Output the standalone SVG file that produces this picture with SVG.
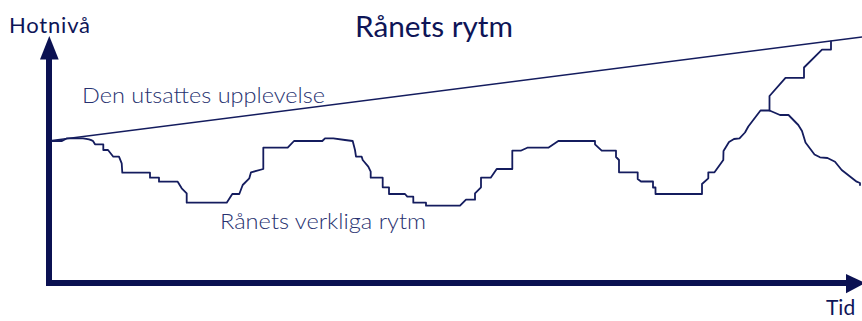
<svg xmlns="http://www.w3.org/2000/svg" width="862" height="321" viewBox="0 0 862 321">
<style>
.ttl{font-family:Lato,"Liberation Sans",sans-serif;fill:#0e1557}
.sm{font-family:Lato,"Liberation Sans",sans-serif;fill:#0e1557;font-weight:400}
.lbl{font-family:Lato,"Liberation Sans",sans-serif;font-weight:300;fill:#27316f}
.axis{fill:#0b1152}
.curve{fill:none;stroke:#141c5e;stroke-width:1.8;stroke-linejoin:round;stroke-linecap:round}
.exp{fill:none;stroke:#141c5e;stroke-width:1.4}
</style>
<rect width="862" height="321" fill="#ffffff"/>
<g id="title"><text class="ttl" x="355" y="37" font-size="28" textLength="158" lengthAdjust="spacingAndGlyphs">Rånets rytm</text></g>
<g id="y-label"><text class="sm" x="9" y="33" font-size="22" textLength="81" lengthAdjust="spacing">Hotnivå</text></g>
<g id="x-label"><text class="sm" x="826" y="315" font-size="21">Tid</text></g>
<g id="axes">
<rect class="axis" x="46" y="57" width="6" height="229"/>
<polygon class="axis" points="49.3,36 40,59.5 58.7,59.5"/>
<rect class="axis" x="46" y="280" width="802" height="6"/>
<polygon class="axis" points="846,274 846,293.3 865,283"/>
</g>
<g id="experienced">
<line class="exp" x1="52" y1="140.5" x2="862" y2="37"/>
<text class="lbl" x="82" y="103" font-size="22" textLength="243" lengthAdjust="spacingAndGlyphs">Den utsattes upplevelse</text>
</g>
<g id="actual">
<path class="curve" d="M52,141 L62,141 L67,138.3 L83,138.3 Q90,139 93,141 L95,144.3 L103.3,144.3 L103.3,150 L108,150 L113.3,156.7 L119,156.7 L121.7,163.3 L122.3,172.7 L150,172.7 L150,177.7 L159,177.7 L159,181.7 L177.7,181.7 L181.7,188.3 L186.7,193.3 L186.7,202.7 L226.7,202.7 L232.3,194 L239.3,194 L242.7,185 L249.3,178.3 L251,172.3 L263.3,169 L263.3,147.7 L287.7,147.7 L294,141 L322.3,141 L325,138.3 L333.3,138.3 L345,140 L352.7,141 L355,150 L356,156.7 L361.7,156.7 L362.7,160 L368.3,166.7 L370.7,171.7 L370.7,177.7 L382.7,177.7 L382.7,187.3 L389,187.3 L389,194 L405,194 L407.3,196.7 L413.3,196.7 L413.3,202.7 L426,202.7 L426,205.7 L460,205.7 L466,199.7 L475,199.7 L475,193.3 L481,187.3 L481,177.7 L490.7,177.7 L496.7,169 L512.3,169 L512.3,150.7 L520.7,150.7 L527.3,147.7 L548.3,147.7 L558.3,141 L595,141 L595,144.3 L601.7,150.7 L616,150.7 L616,157 L619,160 L619,172.3 L637.7,172.3 L637.7,179 L641,181.5 L653,181.5 L653,187.5 L655.5,187.5 L655.5,194 L702,194 L702,184 L708.3,178.3 L708.3,172.3 L714.5,172.3 L723.3,160 L723.5,151 L729,142 L734,139 L739.5,138.3 L745,132.5 L748.3,126.5 L760.5,110.5 L769.5,110.5 L769.5,96 L785.5,77.8 L804,77.8 L804,67.5 L822,49.6 L831,49.6 L831,41.5"/>
<path class="curve" d="M769.5,110.5 L780,115 L788.5,115 L798.3,125 L802,131 L805.5,142.5 L814.5,154.5 L820,157.3 L827.5,158 L835,161.7 L841.7,170 L856.7,181.7 L860,183 L860,185"/>
<text class="lbl" x="220" y="229" font-size="22" textLength="206" lengthAdjust="spacingAndGlyphs">Rånets verkliga rytm</text>
</g>
</svg>
